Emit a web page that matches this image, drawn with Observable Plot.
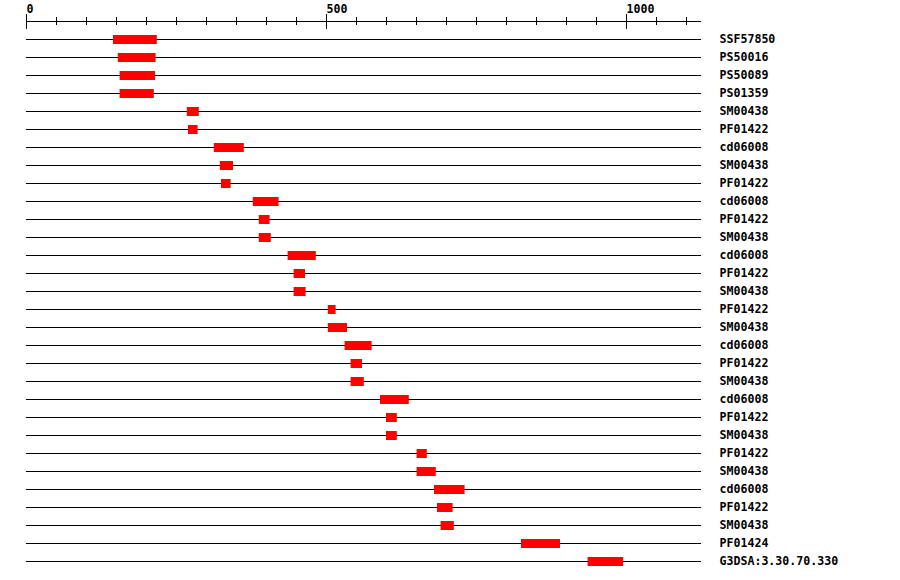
<!DOCTYPE html>
<html>
<head>
<meta charset="utf-8">
<script src="https://cdn.jsdelivr.net/npm/d3@7"></script>
<script src="https://cdn.jsdelivr.net/npm/@observablehq/plot@0.6"></script>
<style>
  html, body { margin: 0; padding: 0; background: #fff; }
</style>
</head>
<body>
<div id="chart"></div>
<script>
// Feature labels, top to bottom
const labels = ["SSF57850","PS50016","PS50089","PS01359","SM00438","PF01422","cd06008","SM00438","PF01422","cd06008","PF01422","SM00438","cd06008","PF01422","SM00438","PF01422","SM00438","cd06008","PF01422","SM00438","cd06008","PF01422","SM00438","PF01422","SM00438","cd06008","PF01422","SM00438","PF01424","G3DSA:3.30.70.330"];
// Feature start / end positions (residues)
const starts = [145,153,156,156,268,270,313,323,325,378,388,388,436,446,446,503,503,531,541,541,590,600,600,651,651,680,685,691,825,936];
const ends   = [218,216,215,213,288,286,363,345,341,421,406,408,483,465,466,516,535,576,560,563,638,618,618,668,683,731,711,713,890,995];
// Sequence length / axis extent and tick labels
const seqLength = 1125;
const tickStep = 50;
const majorTicks = [0, 500, 1000];

const rows = labels.map((label, i) => ({row: i, label, start: starts[i], end: ends[i]}));
const ticks = d3.range(0, 1101, tickStep);
const minorTicks = ticks.filter(t => !majorTicks.includes(t));

const font = "DejaVu Sans Mono";

const chart = Plot.plot({
  width: 900,
  height: 580,
  marginLeft: 26,
  marginRight: 199,
  marginTop: 21,
  marginBottom: 19,
  style: {fontFamily: font, background: "#fff", color: "#000"},
  x: {domain: [0, seqLength], axis: null},
  y: {domain: [-1, labels.length - 1], axis: null, reverse: true},
  marks: [
    // axis line
    Plot.ruleY([-1], {x1: 0, x2: seqLength, stroke: "#000", strokeWidth: 1}),
    // minor ticks
    Plot.ruleX(minorTicks, {x: d => d, y1: -1 - 4/18, y2: -1 + 4/18, stroke: "#000", strokeWidth: 1}),
    // major ticks
    Plot.ruleX(majorTicks, {x: d => d, y1: -1 - 7/18, y2: -1 + 8/18, stroke: "#000", strokeWidth: 1}),
    // tick labels
    Plot.text(majorTicks, {x: d => d, y: -1, text: d => String(d), textAnchor: "start", lineAnchor: "bottom", dy: -9, fontSize: 11.6, fontWeight: "bold", fontFamily: font, fill: "#000"}),
    // row lines
    Plot.ruleY(rows, {y: "row", x1: 0, x2: seqLength, stroke: "#000", strokeWidth: 1}),
    // feature bars
    Plot.rect(rows, {x1: "start", x2: "end", y1: d => d.row - 4/18, y2: d => d.row + 5/18, fill: "#ff0000"}),
    // labels
    Plot.text(rows, {y: "row", text: "label", frameAnchor: "right", dx: 18, textAnchor: "start", lineAnchor: "middle", fontSize: 11.6, fontWeight: "bold", fontFamily: font, fill: "#000"})
  ]
});

document.getElementById("chart").appendChild(chart);
</script>
</body>
</html>
